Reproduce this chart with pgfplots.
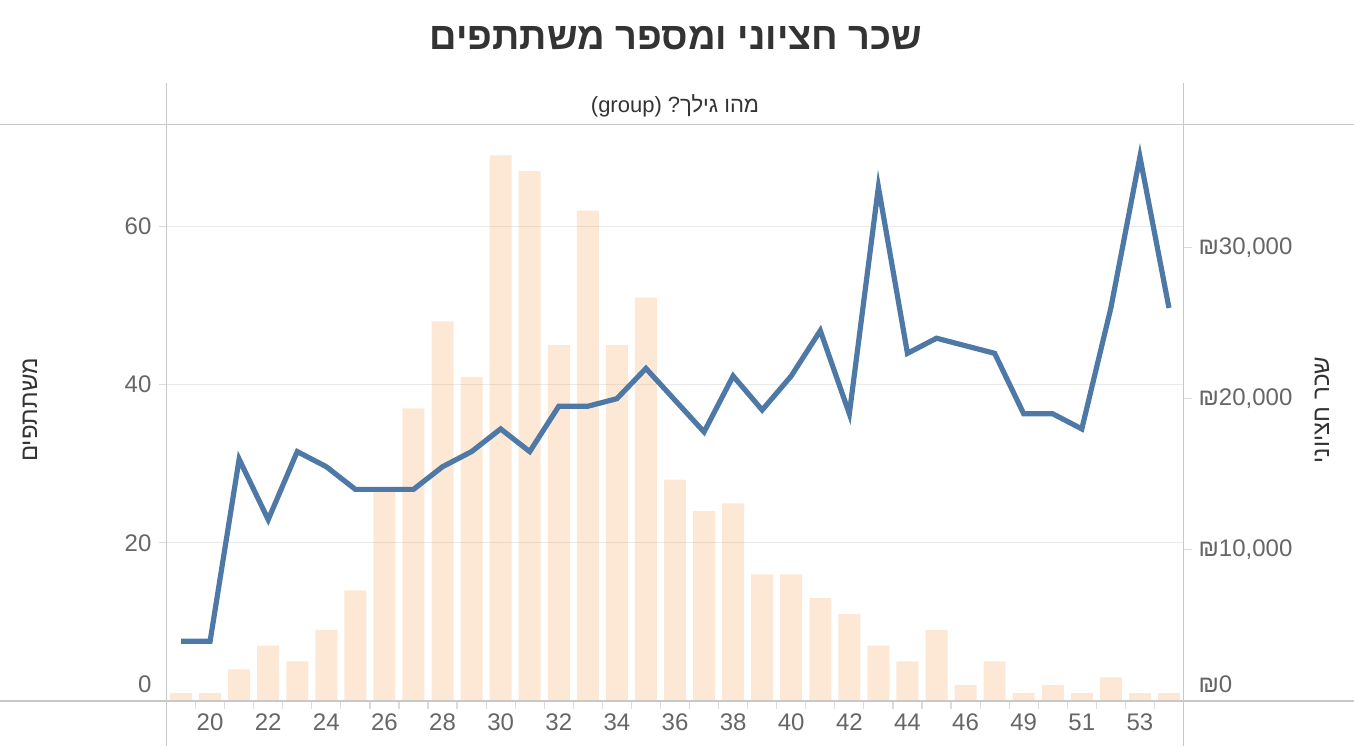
\documentclass[border=0pt]{standalone}
\usepackage{pgfplots}
\pgfplotsset{compat=1.18}
\usepackage{pgfplotstable}
\usepackage{fontspec}
\setmainfont{Liberation Sans}
\newfontfamily\heb[Script=Hebrew]{Liberation Sans}
\TeXXeTstate=1

\definecolor{tabblue}{RGB}{78,121,167}
\definecolor{taborange}{RGB}{242,142,43}
\definecolor{framegray}{RGB}{200,200,200}
\definecolor{gridgray}{RGB}{234,234,234}
\definecolor{ticktext}{RGB}{102,102,102}
\definecolor{titletext}{RGB}{51,51,51}

% idx = position on the axis (age 47 is missing)
\pgfplotstableread{
idx age count salary
0  19 1  3950
1  20 1  3950
2  21 4  16000
3  22 7  12000
4  23 5  16500
5  24 9  15500
6  25 14 14000
7  26 27 14000
8  27 37 14000
9  28 48 15500
10 29 41 16500
11 30 69 18000
12 31 67 16500
13 32 45 19500
14 33 62 19500
15 34 45 20000
16 35 51 22000
17 36 28 19900
18 37 24 17800
19 38 25 21500
20 39 16 19250
21 40 16 21500
22 41 13 24500
23 42 11 19000
24 43 7  34000
25 44 5  23000
26 45 9  24000
27 46 2  23500
28 48 5  23000
29 49 1  19000
30 50 2  19000
31 51 1  18000
32 52 3  26000
33 53 1  36000
34 54 1  26000
}\agedata

\pgfplotsset{
  common/.style={
    at={(83.25pt,-350.5pt)}, anchor=south west,
    width=508.5pt, height=288.25pt, scale only axis,
    xmin=-0.5, xmax=34.5, ymin=0,
    axis line style={draw=none},
    tick align=outside, major tick length=4pt, minor tick length=4pt,
    tick style={draw=black!14, line width=0.6pt},
    tick label style={font=\fontsize{12}{14}\selectfont, text=ticktext},
    /pgf/number format/assume math mode=true,
    clip=false,
  }
}

\begin{document}
\begin{tikzpicture}
\useasboundingbox (0,0) rectangle (677pt,-373pt);

% counts (left axis)
\begin{axis}[common,
  ymax=72.9,
  xtick={1,3,...,33},
  xticklabels={20,22,24,26,28,30,32,34,36,38,40,42,44,46,49,51,53},
  minor xtick={-0.5,0.5,...,34.5},
  major x tick style={draw=none},
  xtick pos=bottom,
  xticklabel style={yshift=1pt},
  ytick={20,40,60}, ytick pos=left,
  extra y ticks={0},
  extra y tick style={tick label style={yshift=8.5pt}, grid=none},
  ymajorgrids, grid style={gridgray, line width=0.6pt},
]
\addplot[ybar, bar width=11pt, fill=taborange, fill opacity=0.2, draw=none]
  table[x=idx, y=count] {\agedata};
\end{axis}

% median salary (right axis)
\begin{axis}[common,
  ymax=38137,
  xtick=\empty,
  ytick={10000,20000,30000}, ytick pos=right,
  yticklabels={{₪10,000},{₪20,000},{₪30,000}},
  extra y ticks={0}, extra y tick labels={₪0},
  extra y tick style={tick label style={yshift=8.5pt}},
  scaled y ticks=false,
]
\addplot[tabblue, line width=2.6pt] table[x=idx, y=salary] {\agedata};
\end{axis}

% frame lines
\draw[framegray, line width=0.7pt] (0,-62.25pt) -- (677pt,-62.25pt);
\draw[framegray, line width=0.7pt] (0,-350.5pt) -- (677pt,-350.5pt);
\draw[framegray, line width=0.6pt] (83.25pt,-41.5pt) -- (83.25pt,-373pt);
\draw[framegray, line width=0.6pt] (591.75pt,-41.5pt) -- (591.75pt,-373pt);

% texts
\node[font=\heb\bfseries\fontsize{19}{23}\selectfont, text=titletext]
  at (338pt,-19pt) {\beginR שכר חציוני ומספר משתתפים\endR};
\node[font=\fontsize{11}{13}\selectfont, text=titletext]
  at (337.5pt,-53pt) {(group) ?{\heb\beginR מהו גילך\endR}};
\node[rotate=90, font=\heb\fontsize{12}{14}\selectfont, text=titletext]
  at (15pt,-205pt) {\beginR משתתפים\endR};
\node[rotate=90, font=\heb\fontsize{12}{14}\selectfont, text=titletext]
  at (661pt,-205pt) {\beginR שכר חציוני\endR};
\end{tikzpicture}
\end{document}
